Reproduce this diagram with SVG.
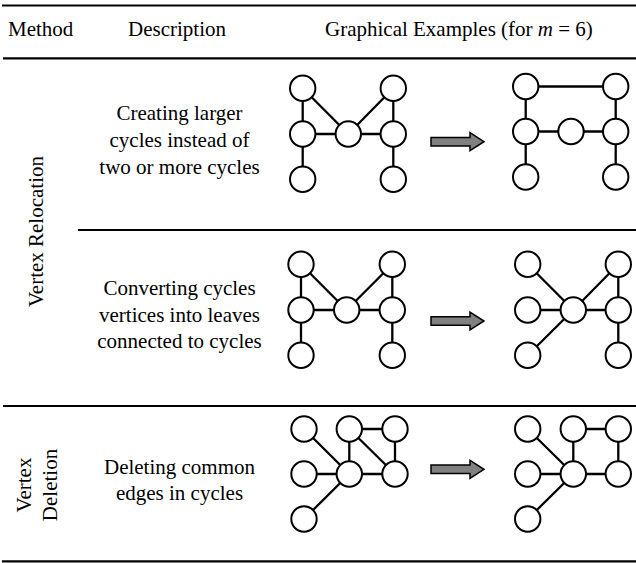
<svg xmlns="http://www.w3.org/2000/svg" xmlns:xlink="http://www.w3.org/1999/xlink" width="636" height="563" viewBox="0 0 636 563">
<style>
  .t { font-family: "Liberation Serif", "Times New Roman", serif; font-size: 21px; fill: #000; }
  .c { text-anchor: middle; }
  .rule { stroke: #000; stroke-width: 2.2; }
  .e { stroke: #000; stroke-width: 2.3; stroke-linecap: butt; }
  .n { fill: #fff; stroke: #000; stroke-width: 2; }
  .arrow { fill: #808080; stroke: #000; stroke-width: 1.5; stroke-linejoin: miter; }
</style>
<defs>
  <path id="arr" class="arrow" d="M-53,-4.3 H-14 V-9 L0,0 L-14,9 V4.3 H-53 Z"/>
</defs>
<rect width="636" height="563" fill="#fff"/>

<g id="table-rules">
  <line class="rule" x1="2" y1="5.5" x2="636" y2="5.5"/>
  <line class="rule" x1="3" y1="58.3" x2="636" y2="58.3"/>
  <line class="rule" x1="78" y1="230" x2="636" y2="230"/>
  <line class="rule" x1="3" y1="406" x2="636" y2="406"/>
  <line class="rule" x1="2" y1="561.3" x2="636" y2="561.3"/>
</g>

<g id="header">
  <text class="t" x="8" y="36">Method</text>
  <text class="t" x="128" y="36">Description</text>
  <text class="t" x="325" y="36">Graphical Examples (for <tspan font-style="italic">m</tspan> = 6)</text>
</g>

<g id="method-labels">
  <text class="t c" transform="translate(43,231.5) rotate(-90)">Vertex Relocation</text>
  <text class="t c" transform="translate(31,485) rotate(-90)">Vertex</text>
  <text class="t c" transform="translate(57,485) rotate(-90)">Deletion</text>
</g>

<g id="descriptions">
  <text class="t c" x="179.5" y="120">Creating larger</text>
  <text class="t c" x="179.5" y="147">cycles instead of</text>
  <text class="t c" x="179.5" y="174">two or more cycles</text>
  <text class="t c" x="179.5" y="295">Converting cycles</text>
  <text class="t c" x="179.5" y="322">vertices into leaves</text>
  <text class="t c" x="179.5" y="348">connected to cycles</text>
  <text class="t c" x="179.5" y="474">Deleting common</text>
  <text class="t c" x="179.5" y="500">edges in cycles</text>
</g>

<g id="connectors">
  <!-- Row 1 left -->
  <line class="e" x1="302.7" y1="88.3" x2="302.7" y2="179.3"/>
  <line class="e" x1="302.7" y1="88.3" x2="348.3" y2="134"/>
  <line class="e" x1="302.7" y1="134" x2="393.3" y2="134"/>
  <line class="e" x1="393.3" y1="88.3" x2="348.3" y2="134"/>
  <line class="e" x1="393.3" y1="88.3" x2="393.3" y2="179.3"/>
  <!-- Row 1 right -->
  <line class="e" x1="525.7" y1="86.5" x2="615.7" y2="86.5"/>
  <line class="e" x1="525.7" y1="86.5" x2="525.7" y2="177"/>
  <line class="e" x1="525.7" y1="131.5" x2="615.7" y2="131.5"/>
  <line class="e" x1="615.7" y1="86.5" x2="615.7" y2="177"/>
  <!-- Row 2 left -->
  <line class="e" x1="301" y1="264.3" x2="301" y2="355.3"/>
  <line class="e" x1="301" y1="264.3" x2="346.7" y2="310"/>
  <line class="e" x1="301" y1="310" x2="392.3" y2="310"/>
  <line class="e" x1="392.3" y1="264.3" x2="346.7" y2="310"/>
  <line class="e" x1="392.3" y1="264.3" x2="392.3" y2="355.3"/>
  <!-- Row 2 right -->
  <line class="e" x1="527.7" y1="264.3" x2="573.3" y2="310"/>
  <line class="e" x1="527.7" y1="310" x2="618.3" y2="310"/>
  <line class="e" x1="527.7" y1="355.3" x2="573.3" y2="310"/>
  <line class="e" x1="618.3" y1="264.3" x2="573.3" y2="310"/>
  <line class="e" x1="618.3" y1="264.3" x2="618.3" y2="355.3"/>
  <!-- Row 3 left -->
  <line class="e" x1="304" y1="429" x2="349.3" y2="474"/>
  <line class="e" x1="304" y1="474" x2="395" y2="474"/>
  <line class="e" x1="304" y1="519" x2="349.3" y2="474"/>
  <line class="e" x1="349.3" y1="429" x2="349.3" y2="474"/>
  <line class="e" x1="349.3" y1="429" x2="395" y2="429"/>
  <line class="e" x1="349.3" y1="429" x2="395" y2="474"/>
  <line class="e" x1="395" y1="429" x2="395" y2="474"/>
  <!-- Row 3 right -->
  <line class="e" x1="527.7" y1="429" x2="573.3" y2="474"/>
  <line class="e" x1="527.7" y1="474" x2="618.3" y2="474"/>
  <line class="e" x1="527.7" y1="519" x2="573.3" y2="474"/>
  <line class="e" x1="573.3" y1="429" x2="573.3" y2="474"/>
  <line class="e" x1="573.3" y1="429" x2="618.3" y2="429"/>
  <line class="e" x1="618.3" y1="429" x2="618.3" y2="474"/>
  <!-- Transformation arrows -->
  <use xlink:href="#arr" href="#arr" x="484" y="141.7"/>
  <use xlink:href="#arr" href="#arr" x="484" y="321"/>
  <use xlink:href="#arr" href="#arr" x="484" y="469.3"/>
</g>

<g id="r1-left">
  <g id="r1l-tl"><circle class="n" cx="302.7" cy="88.3" r="12.7"/></g>
  <g id="r1l-ml"><circle class="n" cx="302.7" cy="134" r="12.7"/></g>
  <g id="r1l-bl"><circle class="n" cx="302.7" cy="179.3" r="12.7"/></g>
  <g id="r1l-c"><circle class="n" cx="348.3" cy="134" r="12.7"/></g>
  <g id="r1l-tr"><circle class="n" cx="393.3" cy="88.3" r="12.7"/></g>
  <g id="r1l-mr"><circle class="n" cx="393.3" cy="134" r="12.7"/></g>
  <g id="r1l-br"><circle class="n" cx="393.3" cy="179.3" r="12.7"/></g>
</g>
<g id="r1-right">
  <g id="r1r-tl"><circle class="n" cx="525.7" cy="86.5" r="12.7"/></g>
  <g id="r1r-tr"><circle class="n" cx="615.7" cy="86.5" r="12.7"/></g>
  <g id="r1r-ml"><circle class="n" cx="525.7" cy="131.5" r="12.7"/></g>
  <g id="r1r-c"><circle class="n" cx="571" cy="131.5" r="12.7"/></g>
  <g id="r1r-mr"><circle class="n" cx="615.7" cy="131.5" r="12.7"/></g>
  <g id="r1r-bl"><circle class="n" cx="525.7" cy="177" r="12.7"/></g>
  <g id="r1r-br"><circle class="n" cx="615.7" cy="177" r="12.7"/></g>
</g>
<g id="r2-left">
  <g id="r2l-tl"><circle class="n" cx="301" cy="264.3" r="12.7"/></g>
  <g id="r2l-ml"><circle class="n" cx="301" cy="310" r="12.7"/></g>
  <g id="r2l-bl"><circle class="n" cx="301" cy="355.3" r="12.7"/></g>
  <g id="r2l-c"><circle class="n" cx="346.7" cy="310" r="12.7"/></g>
  <g id="r2l-tr"><circle class="n" cx="392.3" cy="264.3" r="12.7"/></g>
  <g id="r2l-mr"><circle class="n" cx="392.3" cy="310" r="12.7"/></g>
  <g id="r2l-br"><circle class="n" cx="392.3" cy="355.3" r="12.7"/></g>
</g>
<g id="r2-right">
  <g id="r2r-tl"><circle class="n" cx="527.7" cy="264.3" r="12.7"/></g>
  <g id="r2r-ml"><circle class="n" cx="527.7" cy="310" r="12.7"/></g>
  <g id="r2r-bl"><circle class="n" cx="527.7" cy="355.3" r="12.7"/></g>
  <g id="r2r-c"><circle class="n" cx="573.3" cy="310" r="12.7"/></g>
  <g id="r2r-tr"><circle class="n" cx="618.3" cy="264.3" r="12.7"/></g>
  <g id="r2r-mr"><circle class="n" cx="618.3" cy="310" r="12.7"/></g>
  <g id="r2r-br"><circle class="n" cx="618.3" cy="355.3" r="12.7"/></g>
</g>
<g id="r3-left">
  <g id="r3l-a"><circle class="n" cx="304" cy="429" r="12.7"/></g>
  <g id="r3l-b"><circle class="n" cx="304" cy="474" r="12.7"/></g>
  <g id="r3l-c"><circle class="n" cx="304" cy="519" r="12.7"/></g>
  <g id="r3l-d"><circle class="n" cx="349.3" cy="429" r="12.7"/></g>
  <g id="r3l-e"><circle class="n" cx="349.3" cy="474" r="12.7"/></g>
  <g id="r3l-f"><circle class="n" cx="395" cy="429" r="12.7"/></g>
  <g id="r3l-g"><circle class="n" cx="395" cy="474" r="12.7"/></g>
</g>
<g id="r3-right">
  <g id="r3r-a"><circle class="n" cx="527.7" cy="429" r="12.7"/></g>
  <g id="r3r-b"><circle class="n" cx="527.7" cy="474" r="12.7"/></g>
  <g id="r3r-c"><circle class="n" cx="527.7" cy="519" r="12.7"/></g>
  <g id="r3r-d"><circle class="n" cx="573.3" cy="429" r="12.7"/></g>
  <g id="r3r-e"><circle class="n" cx="573.3" cy="474" r="12.7"/></g>
  <g id="r3r-f"><circle class="n" cx="618.3" cy="429" r="12.7"/></g>
  <g id="r3r-g"><circle class="n" cx="618.3" cy="474" r="12.7"/></g>
</g>
</svg>
